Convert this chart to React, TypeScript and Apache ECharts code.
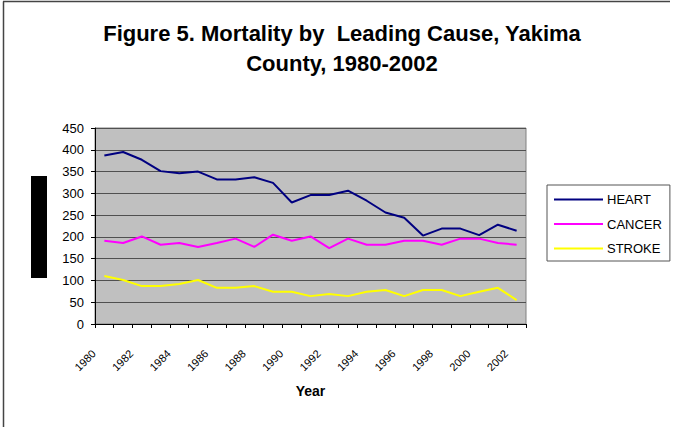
import React, { useEffect, useRef } from "react";
import * as echarts from "echarts";

const years = [
  "1980", "1981", "1982", "1983", "1984", "1985", "1986", "1987", "1988", "1989", "1990", "1991",
  "1992", "1993", "1994", "1995", "1996", "1997", "1998", "1999", "2000", "2001", "2002",
];
const heart = [387, 395, 377, 351, 346, 350, 332, 332, 337, 324, 279, 296, 296, 306, 283, 256, 244, 203, 219, 219, 204, 228, 214];
const cancer = [191, 186, 201, 182, 186, 177, 186, 196, 177, 205, 191, 201, 174, 196, 182, 182, 191, 191, 182, 196, 196, 186, 182];
const stroke = [110, 101, 87, 87, 92, 101, 83, 83, 87, 74, 74, 64, 69, 64, 74, 78, 64, 78, 78, 64, 74, 83, 55];
const seriesNames = ["HEART", "CANCER", "STROKE"];
const seriesColors = ["#000080", "#FF00FF", "#FFFF00"];
const yTicks = { min: 0, max: 450, interval: 50 };

const FONT = "'Liberation Sans', Arial, sans-serif";

export default function App() {
  const ref = useRef<HTMLDivElement>(null);
  useEffect(() => {
    if (!ref.current) return;
    const chart = echarts.init(ref.current, null, { renderer: "svg" });
    const values = [heart, cancer, stroke];
    chart.setOption({
      animation: false,
      backgroundColor: "#ffffff",
      title: {
        text: "Figure 5. Mortality by  Leading Cause, Yakima\nCounty, 1980-2002",
        left: 342,
        top: 18,
        textAlign: "center",
        padding: 0,
        textStyle: {
          fontFamily: FONT,
          fontSize: 22,
          fontWeight: "bold",
          color: "#000",
          lineHeight: 30,
        },
      },
      legend: {
        orient: "vertical",
        left: 547,
        top: 185,
        padding: [8, 8, 6, 7],
        itemGap: 11.5,
        itemWidth: 49,
        itemHeight: 14,
        borderColor: "#555",
        borderWidth: 1,
        backgroundColor: "#fff",
        icon: "path://M0,6 L49,6 L49,8 L0,8 Z",
        textStyle: { fontFamily: FONT, fontSize: 13, color: "#000", padding: [0, 0, 0, -1] },
        data: seriesNames,
      },
      grid: {
        left: 95,
        right: 147,
        top: 128,
        bottom: 103,
        show: true,
        backgroundColor: "#C0C0C0",
        borderColor: "#808080",
        borderWidth: 1,
        containLabel: false,
      },
      xAxis: {
        type: "category",
        data: years,
        boundaryGap: true,
        name: "Year",
        nameLocation: "middle",
        nameGap: 60,
        nameTextStyle: { fontFamily: FONT, fontSize: 14, fontWeight: "bold", color: "#000" },
        axisLine: { show: true, lineStyle: { color: "#000", width: 1 } },
        axisTick: { show: true, interval: 0, length: 4, lineStyle: { color: "#000" } },
        axisLabel: {
          interval: 1,
          rotate: 45,
          margin: 17,
          padding: [0, 15, 0, 0],
          fontFamily: FONT,
          fontSize: 11,
          color: "#000",
        },
        splitLine: { show: false },
      },
      yAxis: {
        type: "value",
        min: yTicks.min,
        max: yTicks.max,
        interval: yTicks.interval,
        axisLine: { show: true, lineStyle: { color: "#000", width: 1 } },
        axisTick: { show: true, length: 4, lineStyle: { color: "#000" } },
        axisLabel: { margin: 11, fontFamily: FONT, fontSize: 13, color: "#000" },
        splitLine: { show: true, lineStyle: { color: "#505050", width: 1 } },
      },
      series: seriesNames.map((name, i) => ({
        name,
        type: "line",
        data: values[i],
        showSymbol: false,
        symbol: "none",
        color: seriesColors[i],
        lineStyle: { color: seriesColors[i], width: 2 },
      })),
      graphic: [
        { type: "rect", shape: { x: 31, y: 176, width: 16, height: 102 }, style: { fill: "#000" } },
        { type: "line", shape: { x1: 3.5, y1: 1.5, x2: 3.5, y2: 427 }, style: { stroke: "#444", lineWidth: 1.5 } },
        { type: "line", shape: { x1: 3, y1: 1.5, x2: 670, y2: 1.5 }, style: { stroke: "#444", lineWidth: 1.5 } },
      ],
    });
    return () => chart.dispose();
  }, []);
  return (
    <div
      ref={ref}
      style={{ position: "fixed", left: 0, top: 0, width: 673, height: 427 }}
    />
  );
}
